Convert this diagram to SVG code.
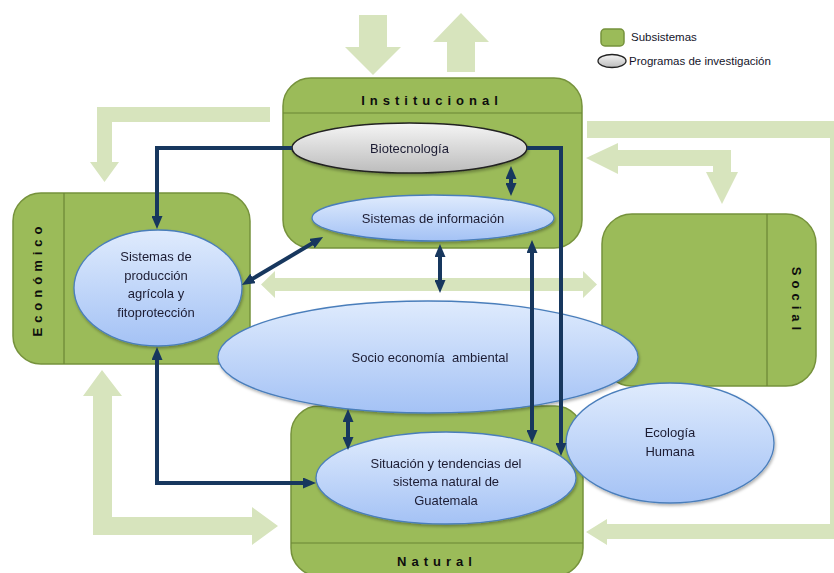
<svg xmlns="http://www.w3.org/2000/svg" width="834" height="573" viewBox="0 0 834 573">
<style>
.flow{fill:#d7e4bd}
.box{fill:#9bbb59;stroke:#76923c;stroke-width:1.5}
.div{stroke:#6b8535;stroke-width:1.2;fill:none}
.title{font-family:"Liberation Sans",Arial,sans-serif;font-size:13px;font-weight:bold;fill:#0d0d0d;letter-spacing:5px}
.prog{fill:url(#blue);stroke:#4a7ebb;stroke-width:1.3}
.lbl{font-family:"Liberation Sans",Arial,sans-serif;font-size:13px;fill:#1c1c33;text-anchor:middle}
.leg{font-family:"Liberation Sans",Arial,sans-serif;font-size:11.5px;fill:#14142a}
.conn{fill:none;stroke:#17375e;stroke-width:4;marker-end:url(#ah)}
.dbl{marker-start:url(#ah)}
</style>
<defs>
<linearGradient id="blue" x1="0" y1="0" x2="0" y2="1">
<stop offset="0" stop-color="#dfebfd"/>
<stop offset="1" stop-color="#a4c2f5"/>
</linearGradient>
<linearGradient id="gray" x1="0" y1="0" x2="0" y2="1">
<stop offset="0" stop-color="#f5f5f5"/>
<stop offset="1" stop-color="#bcbcbc"/>
</linearGradient>
<filter id="sh" x="-10%" y="-10%" width="120%" height="130%">
<feDropShadow dx="1" dy="2" stdDeviation="1.5" flood-color="#000" flood-opacity="0.3"/>
</filter>
<marker id="ah" viewBox="0 0 13 11" refX="3" refY="5.5" markerWidth="13" markerHeight="11" orient="auto-start-reverse" markerUnits="userSpaceOnUse">
<path d="M0,0 L13,5.5 L0,11 z" fill="#17375e"/>
</marker>
</defs>

<g id="flows">
<polygon class="flow" points="359,15 387,15 387,47 401,47 373,75 345,47 359,47"/>
<polygon class="flow" points="461,13 489,42 475,42 475,72 447,72 447,42 433,42"/>
<polygon class="flow" points="270,107 97,107 97,162 90,162 104.5,182 119,162 112,162 112,122 270,122"/>
<polygon class="flow" points="261,284.5 275,271 275,278 583,278 583,271 597,284.5 583,298 583,291 275,291 275,298"/>
<polygon class="flow" points="586,158 618,143 618,150 731,150 731,172 738,172 722,204 706,172 713,172 713,166 618,166 618,174"/>
<polygon class="flow" points="587,121 846,121 846,539 607,539 607,545 586,532 607,519 607,524 830,524 830,138 587,138"/>
<polygon class="flow" points="102,370 122,396 112,396 112,517 252,517 252,507 278,526 252,545 252,535 93,535 93,396 83,396"/>
</g>

<g id="legend">
<rect x="601" y="29" width="23" height="17" rx="4" class="box"/>
<text class="leg" x="631" y="41">Subsistemas</text>
<ellipse cx="612" cy="61" rx="14" ry="6.5" fill="url(#gray)" stroke="#222" stroke-width="1.3"/>
<text class="leg" x="629" y="65">Programas de investigación</text>
</g>

<g id="institucional">
<rect x="283" y="78" width="299" height="170" rx="28" class="box"/>
<line x1="283" y1="113" x2="582" y2="113" class="div"/>
<text class="title" x="432" y="105" text-anchor="middle">Institucional</text>
</g>

<g id="economico">
<rect x="13" y="193" width="237" height="171" rx="28" class="box"/>
<line x1="64" y1="193" x2="64" y2="364" class="div"/>
<text class="title" transform="translate(42,281) rotate(-90)" text-anchor="middle" x="2" y="0">Económico</text>
</g>

<g id="social">
<rect x="602" y="214" width="214" height="172" rx="30" class="box"/>
<line x1="767" y1="214" x2="767" y2="386" class="div"/>
<text class="title" transform="translate(792,299) rotate(90)" text-anchor="middle" x="2" y="0">Social</text>
</g>

<g id="natural">
<rect x="291" y="406" width="292" height="170" rx="28" class="box"/>
<line x1="291" y1="543" x2="583" y2="543" class="div"/>
<text class="title" x="437" y="566" text-anchor="middle">Natural</text>
</g>

<g id="biotecnologia" filter="url(#sh)">
<ellipse cx="409.5" cy="148" rx="117.5" ry="25" fill="url(#gray)" stroke="#222" stroke-width="1.6"/>
<text class="lbl" x="409.5" y="153">Biotecnología</text>
</g>

<g id="sistemas-informacion" filter="url(#sh)">
<ellipse cx="433" cy="218" rx="121" ry="23" class="prog"/>
<text class="lbl" x="433" y="223">Sistemas de información</text>
</g>

<g id="sistemas-produccion" filter="url(#sh)">
<ellipse cx="158" cy="288" rx="84" ry="58" class="prog"/>
<text class="lbl" x="156" y="261">Sistemas de</text>
<text class="lbl" x="156" y="280">producción</text>
<text class="lbl" x="156" y="298">agrícola y</text>
<text class="lbl" x="156" y="317">fitoprotección</text>
</g>

<g id="socio-economia" filter="url(#sh)">
<ellipse cx="428" cy="357" rx="210" ry="56" class="prog"/>
<text class="lbl" x="430" y="362" xml:space="preserve">Socio economía  ambiental</text>
</g>

<g id="situacion" filter="url(#sh)">
<ellipse cx="446" cy="478" rx="130" ry="46" class="prog"/>
<text class="lbl" x="446" y="468">Situación y tendencias del</text>
<text class="lbl" x="446" y="486">sistema natural de</text>
<text class="lbl" x="446" y="505">Guatemala</text>
</g>

<g id="ecologia" filter="url(#sh)">
<ellipse cx="670" cy="443" rx="104" ry="60" class="prog"/>
<text class="lbl" x="670" y="437">Ecología</text>
<text class="lbl" x="670" y="456">Humana</text>
</g>

<g id="connectors">
<path class="conn" d="M292,148 H157 V219"/>
<path class="conn" d="M527,148 H561 V446"/>
<path class="conn dbl" d="M511,176 V186"/>
<path class="conn dbl" d="M250.5,280 L314.5,242"/>
<path class="conn dbl" d="M440,254 V283"/>
<path class="conn dbl" d="M532,250 V433"/>
<path class="conn dbl" d="M348,419 V440"/>
<path class="conn dbl" d="M157,357 V483 H306"/>
</g>
</svg>
